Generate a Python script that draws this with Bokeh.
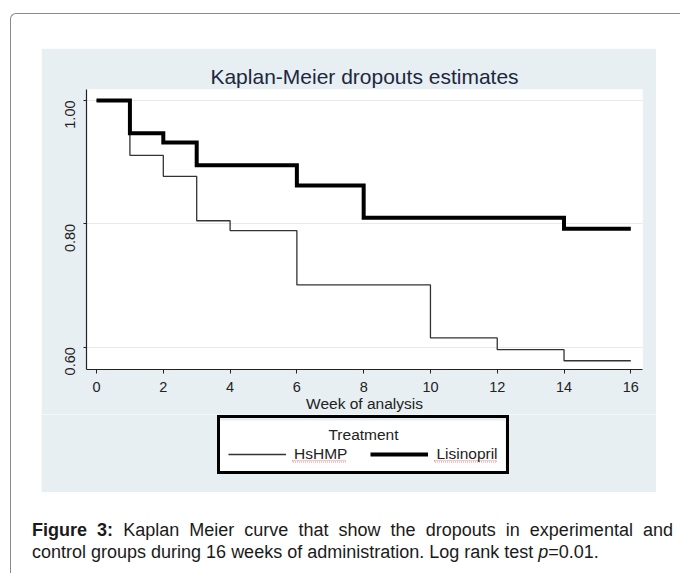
import math
from bokeh.plotting import figure
from bokeh.layouts import column, row
from bokeh.models import (FixedTicker, NumeralTickFormatter, Legend, LegendItem,
                          Range1d, Div, Spacer, Label, BoxAnnotation)
from bokeh.embed import file_html
from bokeh.resources import INLINE

# ---------------- data ----------------
TITLE = "Kaplan-Meier dropouts estimates"
X_LABEL = "Week of analysis"
LEGEND_TITLE = "Treatment"
X_TICKS = [0, 2, 4, 6, 8, 10, 12, 14, 16]
Y_TICKS = [0.60, 0.80, 1.00]

hshmp_name = "HsHMP"
hshmp_weeks = [0, 1, 2, 3, 4, 6, 10, 12, 14, 16]
hshmp_surv = [1.000, 0.911, 0.877, 0.805, 0.789, 0.701, 0.615, 0.596, 0.578, 0.578]

lis_name = "Lisinopril"
lis_weeks = [0, 1, 2, 3, 6, 8, 14, 16]
lis_surv = [1.000, 0.947, 0.932, 0.895, 0.862, 0.810, 0.792, 0.792]

CAPTION_HTML = ("<b>Figure 3:</b> Kaplan Meier curve that show the dropouts in experimental "
                "and control groups during 16 weeks of administration. Log rank test "
                "<i>p</i>=0.01.")

# ---------------- styling ----------------
PANEL = "#e8eff2"
FONT = "Liberation Sans"
THIN = dict(line_color="#333333", line_width=1.3)
THICK = dict(line_color="black", line_width=4, line_join="miter")

# ---------------- main plot ----------------
p = figure(width=615, height=366, output_backend="svg", toolbar_location=None,
           x_range=Range1d(-0.30, 16.35), y_range=Range1d(0.5638, 1.0178),
           min_border_left=45, min_border_right=14, min_border_top=41, min_border_bottom=45,
           background_fill_color="white", border_fill_color=PANEL, outline_line_color=None)

p.title.text = TITLE
p.title.align = "center"
p.title.text_font = FONT
p.title.text_font_size = "21px"
p.title.text_font_style = "normal"
p.title.text_color = "#1d2740"
p.title.standoff = 3
p.title.vertical_align = "bottom"

p.xgrid.visible = False
p.ygrid.ticker = FixedTicker(ticks=Y_TICKS)
p.ygrid.grid_line_color = "#e4eaed"
p.ygrid.grid_line_width = 1

for ax in (p.xaxis[0], p.yaxis[0]):
    ax.axis_line_color = "#222222"
    ax.axis_line_width = 1.2
    ax.major_tick_line_color = "#222222"
    ax.minor_tick_line_color = None
    ax.major_tick_in = 0
    ax.major_label_text_font = FONT
    ax.major_label_text_font_size = "14.5px"
    ax.major_label_text_color = "#222222"

p.xaxis.ticker = FixedTicker(ticks=X_TICKS)
p.xaxis.major_tick_out = 4
p.xaxis.major_label_standoff = 8
p.xaxis.axis_label = X_LABEL
p.xaxis.axis_label_text_font = FONT
p.xaxis.axis_label_text_font_size = "15.5px"
p.xaxis.axis_label_text_font_style = "normal"
p.xaxis.axis_label_text_color = "#222222"
p.xaxis.axis_label_standoff = 0

p.yaxis.ticker = FixedTicker(ticks=Y_TICKS)
p.yaxis.formatter = NumeralTickFormatter(format="0.00")
p.yaxis.major_label_orientation = math.pi / 2
p.yaxis.major_tick_out = 3
p.yaxis.major_label_standoff = 13

p.step(hshmp_weeks, hshmp_surv, mode="after", **THIN)
p.step(lis_weeks, lis_surv, mode="after", **THICK)

# ---------------- legend strip (same panel, pixel coordinates) ----------------
lg = figure(width=615, height=78, output_backend="svg", toolbar_location=None,
            x_range=Range1d(41, 656), y_range=Range1d(492, 414),
            x_axis_type=None, y_axis_type=None,
            min_border_left=0, min_border_right=0, min_border_top=0, min_border_bottom=0,
            background_fill_color=PANEL, border_fill_color=PANEL, outline_line_color=None)
lg.grid.visible = False
# white fill of the legend box, beneath everything else in the strip
lg.add_layout(BoxAnnotation(left=218, right=505, top=420, bottom=471, fill_color="white",
                            fill_alpha=1, line_color=None, level="underlay"))
# the same curves, outside this strip's visible range: they only feed the legend keys
k1 = lg.step(hshmp_weeks, hshmp_surv, mode="after", **THIN)
k2 = lg.step(lis_weeks, lis_surv, mode="after", **THICK)
legend = Legend(items=[LegendItem(label=hshmp_name, renderers=[k1]),
                       LegendItem(label=lis_name, renderers=[k2])],
                orientation="horizontal", location=(176, 18), margin=0,
                title=" ", title_text_font=FONT, title_text_font_size="15.5px",
                title_standoff=1,
                border_line_color="black", border_line_width=3, border_line_alpha=1,
                background_fill_alpha=0,
                padding=8, spacing=23, glyph_width=58, glyph_height=16,
                label_height=16, label_standoff=8,
                label_text_font=FONT, label_text_font_size="15.5px", label_text_color="#222222")
lg.add_layout(legend)
lg.add_layout(Label(x=363, y=434, text=LEGEND_TITLE, text_align="center",
                    text_baseline="alphabetic", text_font=FONT, text_font_size="15.5px",
                    text_color="#222222", level="overlay"))
# spell-check squiggles seen under the legend labels
for l, r in [(292, 345), (434, 496)]:
    lg.add_layout(BoxAnnotation(left=l, right=r, top=460, bottom=461.5, fill_alpha=0,
                                line_color="#e03030", line_width=0.8, line_dash="1 1",
                                line_alpha=0.7, level="overlay"))

# ---------------- caption ----------------
caption = Div(text=CAPTION_HTML, width=641, margin=0,
              styles={"font-family": FONT, "font-size": "18px", "line-height": "22px",
                      "text-align": "justify", "color": "#1a1a1a"})

page = column(
    Spacer(height=34, margin=0),
    row(Spacer(width=30, margin=0), p, margin=0),
    row(Spacer(width=30, margin=0), lg, margin=0),
    Spacer(height=27, margin=0),
    row(Spacer(width=21, margin=0), caption, Spacer(width=7, margin=0), margin=0),
    Spacer(height=10, margin=0),
    margin=(13, 0, 0, 10),
    styles={"border-left": "1px solid #8a8a8a", "border-top": "1px solid #8a8a8a",
            "border-top-left-radius": "6px"},
)

open("out.html", "w").write(file_html(page, INLINE))
